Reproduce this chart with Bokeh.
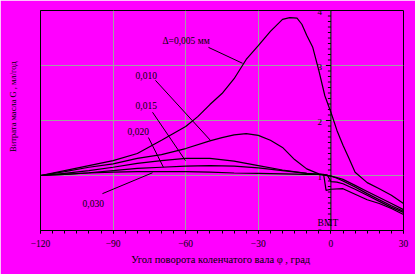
import numpy as np
from bokeh.plotting import figure
from bokeh.models import FixedTicker, Range1d, BoxAnnotation
from bokeh.core.properties import value
from bokeh.embed import file_html
from bokeh.resources import INLINE

# ---- data ----
x_ticks = [-120, -90, -60, -30, 0, 30]
x_minor = list(range(-120, 31, 5))
inner_ticks = [0, 1, 2, 3, 4]
inner_labels = ["0", "1", "2", "3", "4"]

x_005 = [-120, -110, -100, -90, -80, -70, -60, -55, -50, -45, -40, -35, -30, -25, -20, -17, -14, -12, -10, -7.5, -5, -2.5, 0, 2.5, 5, 7.5, 10, 15, 20, 25, 30]
y_005 = [1.0, 1.09, 1.18, 1.27, 1.40, 1.64, 1.89, 2.07, 2.29, 2.49, 2.76, 3.11, 3.36, 3.62, 3.84, 3.87, 3.86, 3.75, 3.55, 3.33, 2.91, 2.45, 2.15, 1.82, 1.55, 1.31, 1.06, 0.87, 0.76, 0.64, 0.49]

x_010 = [-120, -110, -100, -90, -80, -70, -60, -50, -45, -40, -35, -30, -25, -20, -15, -10, -5, 0, 2.5, 5, 10, 15, 20, 25, 30]
y_010 = [1.0, 1.07, 1.15, 1.21, 1.31, 1.38, 1.49, 1.63, 1.69, 1.74, 1.76, 1.73, 1.64, 1.51, 1.29, 1.12, 1.03, 0.99, 0.96, 0.93, 0.82, 0.71, 0.60, 0.49, 0.38]

x_015 = [-120, -110, -100, -90, -80, -70, -60, -50, -40, -30, -20, -10, -5, 0, 2.5, 5, 10, 15, 20, 25, 30]
y_015 = [1.0, 1.04, 1.09, 1.15, 1.22, 1.27, 1.31, 1.31, 1.26, 1.18, 1.10, 1.04, 1.02, 0.99, 0.95, 0.90, 0.79, 0.67, 0.56, 0.45, 0.35]

x_020 = [-120, -110, -100, -90, -80, -70, -60, -50, -40, -30, -20, -10, -5, -1.5, 0, 2.5, 5, 10, 15, 20, 25, 30]
y_020 = [1.0, 1.02, 1.05, 1.09, 1.13, 1.15, 1.17, 1.18, 1.17, 1.14, 1.09, 1.04, 1.02, 1.01, 0.89, 0.88, 0.85, 0.75, 0.64, 0.53, 0.42, 0.33]

x_030 = [-120, -110, -100, -90, -80, -70, -60, -50, -40, -30, -20, -10, -3, -2, 0, 5, 10, 15, 20, 25, 30]
y_030 = [1.0, 1.02, 1.045, 1.06, 1.07, 1.07, 1.07, 1.06, 1.045, 1.04, 1.03, 1.02, 1.02, 0.73, 0.75, 0.76, 0.66, 0.56, 0.49, 0.40, 0.29]

curve_labels = ["\u0394=0,005 \u043c\u043c", "0,010", "0,015", "0,020", "0,030"]

# annotation placement (positions, not data)
label_x = [-69.6, -80.7, -80.7, -84.0, -102.6]
label_y = [3.45, 2.82, 2.27, 1.80, 0.49]
lead_x0 = [-50.6, -72.5, -73.7, -75.4, -94.4]
lead_y0 = [3.33, 2.73, 2.15, 1.69, 0.67]
lead_x1 = [-36.5, -49.8, -60.1, -69.2, -73.7]
lead_y1 = [3.04, 1.64, 1.27, 1.15, 1.05]

FONT = value("Liberation Serif")
MAG = "#FF00FF"

W, H = 415, 274
L, R, T, B = 40, 12, 10, 44

p = figure(width=W, height=H, output_backend="svg", toolbar_location=None,
           x_range=Range1d(-120, 30), y_range=Range1d(0, 4),
           min_border_left=L, min_border_right=R, min_border_top=T, min_border_bottom=B)
p.background_fill_color = MAG
p.border_fill_color = MAG
p.outline_line_color = "black"
p.outline_line_width = 1
p.outline_line_alpha = 1

# outer black frame of the picture
p.add_layout(BoxAnnotation(left=1, right=W - 1, top=1, bottom=H - 1,
                           left_units="canvas", right_units="canvas",
                           top_units="canvas", bottom_units="canvas",
                           fill_color=None, fill_alpha=0, line_color="black",
                           line_width=2.5, line_alpha=1, level="overlay"))

# bottom axis
xa = p.xaxis[0]
xa.ticker = FixedTicker(ticks=x_ticks, minor_ticks=x_minor)
xa.axis_line_color = "black"
xa.major_tick_in = 0
xa.major_tick_out = 3
xa.minor_tick_in = 0
xa.minor_tick_out = 3
xa.major_tick_line_color = "black"
xa.minor_tick_line_color = "black"
xa.major_label_text_font = "Liberation Serif"
xa.major_label_text_font_size = "9.5px"
xa.major_label_text_color = "black"
xa.major_label_standoff = 6
xa.axis_label = "\u0423\u0433\u043e\u043b \u043f\u043e\u0432\u043e\u0440\u043e\u0442\u0430 \u043a\u043e\u043b\u0435\u043d\u0447\u0430\u0442\u043e\u0433\u043e \u0432\u0430\u043b\u0430  \u03c6 , \u0433\u0440\u0430\u0434"
xa.axis_label_text_font = "Liberation Serif"
xa.axis_label_text_font_size = "10.5px"
xa.axis_label_text_font_style = "normal"
xa.axis_label_text_color = "black"
xa.axis_label_standoff = 4

# left axis (line + title only)
ya = p.yaxis[0]
ya.ticker = FixedTicker(ticks=[])
ya.axis_line_color = "black"
ya.major_tick_line_color = None
ya.minor_tick_line_color = None
ya.major_tick_out = 0
ya.major_tick_in = 0
ya.minor_tick_out = 0
ya.minor_tick_in = 0
ya.major_label_standoff = 0
ya.axis_label = "\u00a0" * 14 + "\u0412\u0438\u0442\u0440\u0430\u0442\u0430 \u043c\u0430\u0441\u043b\u0430  G , \u043c\u043b/\u0433\u043e\u0434"
ya.axis_label_text_font = "Liberation Serif"
ya.axis_label_text_font_size = "8.5px"
ya.axis_label_text_font_style = "normal"
ya.axis_label_text_color = "black"
ya.axis_label_standoff = 23

p.ygrid[0].ticker = FixedTicker(ticks=inner_ticks)
for g in (p.xgrid[0], p.ygrid[0]):
    g.grid_line_color = "#a0a0a0"
    g.grid_line_alpha = 1
    g.grid_line_width = 1

# inner axis at TDC (x = 0)
px_to_x = 150 / (W - L - R)
p.segment(x0=[0], y0=[inner_ticks[0]], x1=[0], y1=[inner_ticks[-1]], line_color="black", line_width=1)
minor_y = np.round(np.arange(inner_ticks[0], inner_ticks[-1] + 0.001, 0.1), 3)
p.segment(x0=-3 * px_to_x, y0=minor_y, x1=np.zeros_like(minor_y), y1=minor_y, line_color="black", line_width=1)
p.segment(x0=[-5 * px_to_x] * len(inner_ticks), y0=inner_ticks, x1=[0] * len(inner_ticks), y1=inner_ticks,
          line_color="black", line_width=1)
p.text(x=[0] * len(inner_ticks), y=inner_ticks, text=inner_labels, x_offset=-9, y_offset=1,
       text_align="right", text_baseline="middle", text_font=FONT, text_font_size="9px", text_color="black")
p.text(x=[0], y=[0], text=["\u0412\u041c\u0422"], x_offset=-3, y_offset=-8,
       text_align="center", text_baseline="middle", text_font=FONT, text_font_size="9.5px", text_color="black")

# curves
for xs, ys in [(x_005, y_005), (x_010, y_010), (x_015, y_015), (x_020, y_020), (x_030, y_030)]:
    p.line(xs, ys, line_color="black", line_width=1.2)

# leaders and labels
p.segment(x0=lead_x0, y0=lead_y0, x1=lead_x1, y1=lead_y1, line_color="black", line_width=1)
p.text(x=label_x, y=label_y, text=curve_labels, text_align="left", text_baseline="middle",
       text_font=FONT, text_font_size="9.5px", text_color="black")

open("out.html", "w").write(file_html(p, INLINE))
